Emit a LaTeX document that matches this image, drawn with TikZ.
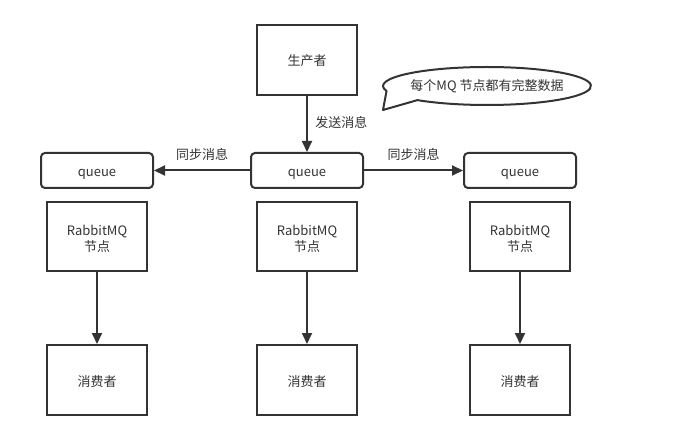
\documentclass[tikz,border=0pt]{standalone}
\usepackage{fontspec}
\setmainfont{Noto Sans CJK SC}
\usetikzlibrary{arrows.meta,calc}
\definecolor{ink}{HTML}{333333}
\begin{document}
\begin{tikzpicture}[x=1pt,y=-1pt,
  every node/.style={font=\fontsize{13}{15}\selectfont, text=ink, align=center},
  sqbox/.style={draw=ink, line width=2pt, minimum width=100pt, minimum height=70pt, inner sep=0pt, text height=12pt, text depth=0pt},
  rbox/.style={draw=ink, line width=2pt, minimum width=100pt, minimum height=69pt, inner sep=0pt, text height=31pt, text depth=0pt},
  qbox/.style={draw=ink, line width=2pt, rounded corners=4pt, minimum width=112pt, minimum height=35pt, inner sep=0pt, text height=13pt, text depth=0pt},
  link/.style={draw=ink, line width=2pt, -{Triangle[length=11pt,width=10pt]}},
  lbl/.style={font=\fontsize{13}{15}\selectfont}
]
\useasboundingbox (0,0) rectangle (685,430);
\node[sqbox] (prod) at (307,60) {生产者};
\node[qbox] (qm) at (307,170.5) {queue};
\node[qbox] (ql) at (97,170.5) {queue};
\node[qbox] (qr) at (520,170.5) {queue};
\node[rbox] (rl) at (97,236.5) {RabbitMQ\\[2pt]节点};
\node[rbox] (rm) at (307,236.5) {RabbitMQ\\[2pt]节点};
\node[rbox] (rr) at (520,236.5) {RabbitMQ\\[2pt]节点};
\node[sqbox] (cl) at (97,380) {消费者};
\node[sqbox] (cm) at (307,380) {消费者};
\node[sqbox] (cr) at (520,380) {消费者};
\draw[link] (prod) -- node[lbl, right=4pt, pos=0.48] {发送消息} (qm);
\draw[link] (qm) -- node[lbl, above=6pt] {同步消息} (ql);
\draw[link] (qm) -- node[lbl, above=6pt] {同步消息} (qr);
\draw[link] (rl) -- (cl);
\draw[link] (rm) -- (cm);
\draw[link] (rr) -- (cr);
% callout
\coordinate (tip) at (383,110);
\draw[ink, line width=2pt, line join=round]
  (tip) -- ($(487,86)+(132:104 and 19)$) coordinate (a)
  arc[start angle=132, end angle=-195, x radius=104, y radius=19] -- cycle;
\node (call) at (487,86) {每个MQ 节点都有完整数据};
\end{tikzpicture}
\end{document}
